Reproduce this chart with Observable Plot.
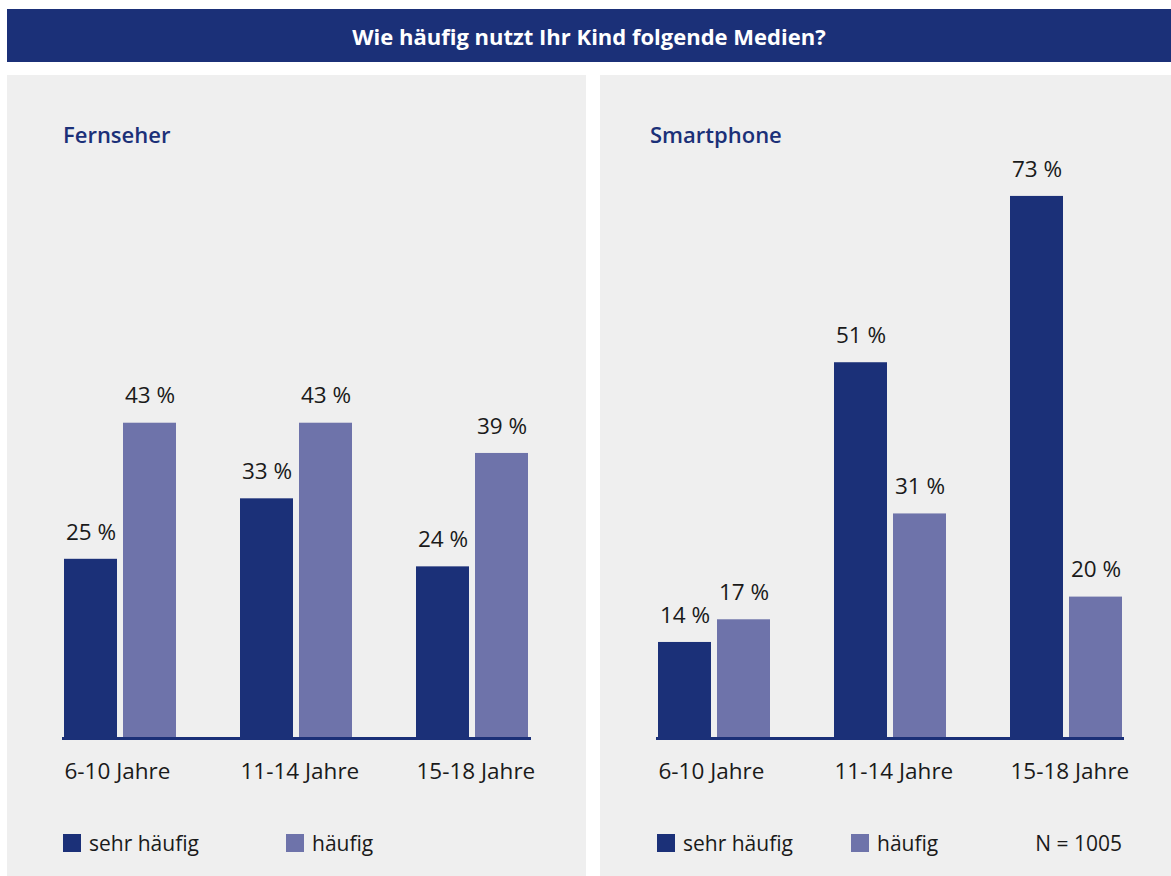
<!DOCTYPE html>
<html><head><meta charset="utf-8">
<script src="https://cdn.jsdelivr.net/npm/d3@7"></script>
<script src="https://cdn.jsdelivr.net/npm/@observablehq/plot@0.6"></script>
<style>
html,body{margin:0;padding:0;background:#fff;}
#page{position:relative;width:1171px;height:876px;overflow:hidden;font-family:"Open Sans",sans-serif;color:#1a1a1a;}
#titlebar{position:absolute;left:7px;top:9px;width:1164px;height:53px;background:#1b3078;color:#fff;font-weight:700;font-size:22px;display:flex;align-items:center;justify-content:center;}
.panel{position:absolute;top:75px;height:801px;background:#efefef;}
.ptitle{position:absolute;top:44px;font-weight:600;font-size:22px;color:#1b3078;}
.chart{position:absolute;top:65px;left:0;}
.leg{position:absolute;top:754px;display:flex;align-items:center;font-size:21px;}
.sw{display:inline-block;width:18px;height:18px;margin-right:8px;}
</style></head><body>
<div id="page">
  <div id="titlebar">Wie häufig nutzt Ihr Kind folgende Medien?</div>
  <div class="panel" id="p1" style="left:7px;width:579px;">
    <div class="ptitle" style="left:56px;">Fernseher</div>
    <div class="chart" id="c1"></div>
  </div>
  <div class="panel" id="p2" style="left:600px;width:571px;">
    <div class="ptitle" style="left:50px;">Smartphone</div>
    <div class="chart" id="c2"></div>
  </div>
</div>
<script>
const groups = ["6-10 Jahre", "11-14 Jahre", "15-18 Jahre"];
const seriesNames = ["sehr häufig", "häufig"];
const fernseherSehrHaeufig = [25, 33, 24];
const fernseherHaeufig = [43, 43, 39];
const smartphoneSehrHaeufig = [14, 51, 73];
const smartphoneHaeufig = [17, 31, 20];
const nLabel = "N = 1005";

const NAVY = "#1b3078", LIGHT = "#6e73aa";
const FONT = "'Open Sans', sans-serif";

function rows(a, b) {
  return groups.flatMap((g, i) => [
    {group: g, series: seriesNames[0], value: a[i]},
    {group: g, series: seriesNames[1], value: b[i]}
  ]);
}

function chart(data, width, ml, mr) {
  const s = data.filter(d => d.series === seriesNames[0]);
  const h = data.filter(d => d.series === seriesNames[1]);
  return Plot.plot({
    width, height: 680,
    marginLeft: ml, marginRight: mr, marginTop: 3, marginBottom: 82,
    style: {background: "transparent", fontFamily: FONT, fontSize: "22px", color: "#1a1a1a", overflow: "visible"},
    x: {domain: groups, paddingInner: 0.365, paddingOuter: 0, label: null},
    y: {domain: [0, 80], range: [607.8, 3], axis: null},
    marks: [
      Plot.barY(s, {x: "group", y: "value", fill: NAVY, insetRight: 59, clip: true}),
      Plot.barY(h, {x: "group", y: "value", fill: LIGHT, insetLeft: 59, clip: true}),
      Plot.frame({anchor: "bottom", stroke: NAVY, strokeWidth: 3}),
      Plot.text(s, {x: "group", y: "value", text: d => `${d.value} %`, dx: -29.5, dy: -27, fontSize: 22.5, fill: "#1a1a1a"}),
      Plot.text(h, {x: "group", y: "value", text: d => `${d.value} %`, dx: 29.5, dy: -27, fontSize: 22.5, fill: "#1a1a1a"}),
      Plot.axisX({tickSize: 0, tickPadding: 25, textAnchor: "start", dx: -56, fontSize: 22.5, label: null})
    ]
  });
}

document.getElementById("c1").appendChild(chart(rows(fernseherSehrHaeufig, fernseherHaeufig), 579, 56, 57));
document.getElementById("c2").appendChild(chart(rows(smartphoneSehrHaeufig, smartphoneHaeufig), 571, 57, 49));

function legend(panelId, left, withN) {
  const p = document.getElementById(panelId);
  const items = [[seriesNames[0], NAVY, left], [seriesNames[1], LIGHT, left + (panelId === "p1" ? 223 : 194)]];
  for (const [name, col, x] of items) {
    const d = document.createElement("div");
    d.className = "leg"; d.style.left = x + "px";
    d.innerHTML = `<span class="sw" style="background:${col}"></span><span>${name}</span>`;
    p.appendChild(d);
  }
  if (withN) {
    const d = document.createElement("div");
    d.className = "leg"; d.style.right = "49px"; d.textContent = nLabel;
    p.appendChild(d);
  }
}
legend("p1", 56, false);
legend("p2", 57, true);
</script>
</body></html>
